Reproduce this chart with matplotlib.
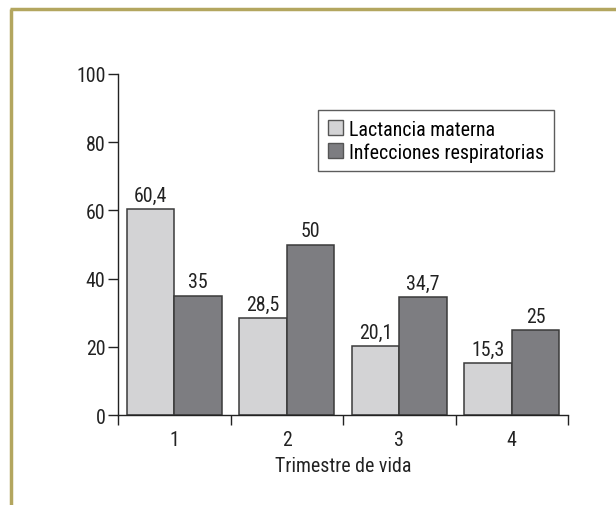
import matplotlib
matplotlib.use("Agg")
import matplotlib.pyplot as plt
from matplotlib.lines import Line2D
from matplotlib.patches import Patch
import numpy as np

plt.rcParams['font.family'] = ['Roboto Condensed', 'Archivo Narrow', 'DejaVu Sans']

categories = ["1", "2", "3", "4"]
series_names = ["Lactancia materna", "Infecciones respiratorias"]
lactancia = [60.4, 28.5, 20.1, 15.3]
infecciones = [35, 50, 34.7, 25]
yticks = [0, 20, 40, 60, 80, 100]
xlabel = "Trimestre de vida"

light = "#d3d3d5"
dark = "#7d7d81"
edge = "#3a3a3a"
border = "#b3a65f"
fs = 14.3
tc = "#222222"

fig = plt.figure(figsize=(6.16, 5.06), dpi=100)
ax = fig.add_axes([118/616, 1-416/506, (568-118)/616, (416-75)/506])

x = np.arange(1, len(categories) + 1)
w = 0.423
b1 = ax.bar(x - w/2, lactancia, w, color=light, edgecolor=edge, linewidth=1.1, label=series_names[0])
b2 = ax.bar(x + w/2, infecciones, w, color=dark, edgecolor=edge, linewidth=1.1, label=series_names[1])

def fmt(v):
    return f"{v:g}".replace('.', ',')

for bars, vals in ((b1, lactancia), (b2, infecciones)):
    for r, v in zip(bars, vals):
        ax.annotate(fmt(v), (r.get_x() + r.get_width()/2, v), xytext=(0, 3),
                    textcoords="offset points", ha="center", va="bottom",
                    fontsize=fs, color=tc)

ax.set_xlim(0.5, 4.5)
ax.set_ylim(0, 100)
ax.set_yticks(yticks)
ax.set_yticklabels([str(t) for t in yticks], fontsize=fs, color=tc)
ax.set_xticks(np.arange(0.5, 4.6, 1.0))
ax.set_xticklabels([])
ax.set_xticks(x, minor=True)
ax.set_xticklabels(categories, minor=True, fontsize=fs, color=tc)
ax.tick_params(axis='x', which='minor', length=0, pad=11)
ax.tick_params(axis='x', which='major', length=7, width=1, direction='out', colors=tc)
ax.tick_params(axis='y', length=7, width=1, direction='out', pad=2, colors=tc)
ax.set_xlabel(xlabel, fontsize=fs, color=tc, labelpad=5)

for s in ("top", "right"):
    ax.spines[s].set_visible(False)
for s in ("left", "bottom"):
    ax.spines[s].set_linewidth(1.0)
    ax.spines[s].set_color(tc)

handles = [Patch(facecolor=light, edgecolor="#555555", linewidth=1.0),
           Patch(facecolor=dark, edgecolor="#555555", linewidth=1.0)]
leg = fig.legend(handles, series_names, loc="upper left",
                 bbox_to_anchor=(318/616, 1-111/506), fontsize=fs,
                 frameon=True, fancybox=False, edgecolor="#333333",
                 handlelength=0.8, handleheight=0.8, handletextpad=0.3,
                 borderpad=0.48, labelspacing=0.18, borderaxespad=0)
leg.get_frame().set_linewidth(1.0)

# decorative border (top and left)
fig.add_artist(Line2D([10/616, 1.0], [1-9.5/506, 1-9.5/506], transform=fig.transFigure,
                      color=border, linewidth=2.5, solid_capstyle='butt'))
fig.add_artist(Line2D([11/616, 11/616], [0, 1-9.5/506], transform=fig.transFigure,
                      color=border, linewidth=2.5, solid_capstyle='butt'))

fig.savefig("out.png", dpi=100)
